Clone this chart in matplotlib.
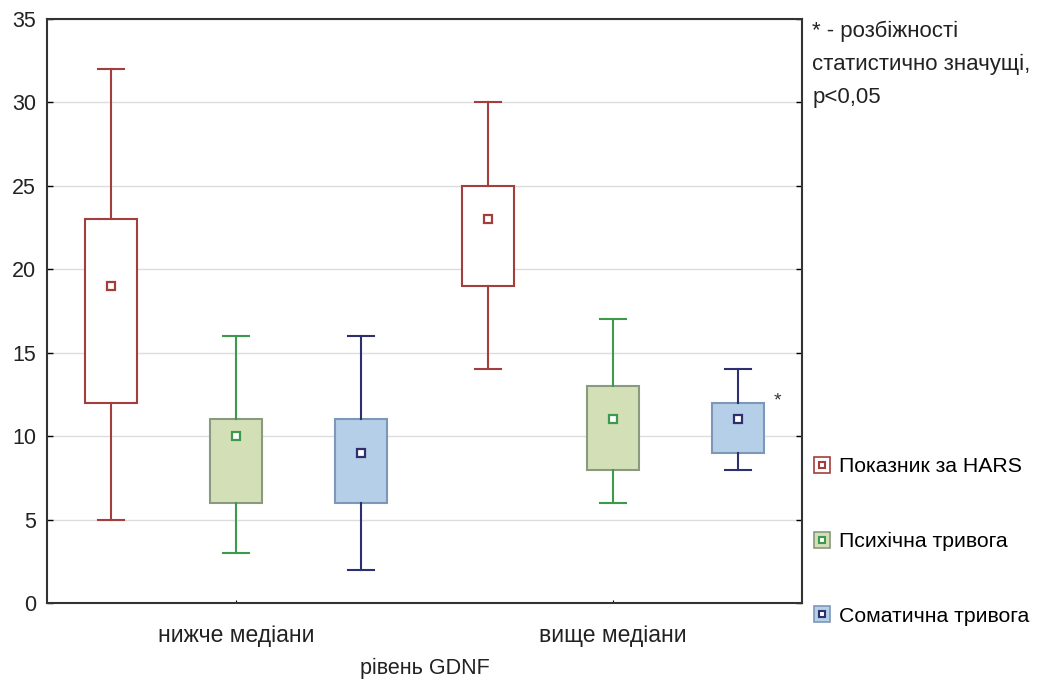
import matplotlib.pyplot as plt
from matplotlib.lines import Line2D
from matplotlib.legend_handler import HandlerTuple

plt.rcParams['font.family'] = ['Liberation Sans', 'DejaVu Sans']

# Groups by GDNF level and the three anxiety scores
groups = ['нижче медіани', 'вище медіани']
series = ['Показник за HARS', 'Психічна тривога', 'Соматична тривога']

# per series: [below median, above median]
whis_lo = [[5, 14], [3, 6], [2, 8]]
q1 = [[12, 19], [6, 8], [6, 9]]
mean = [[19, 23], [10, 11], [9, 11]]
q3 = [[23, 25], [11, 13], [11, 12]]
whis_hi = [[32, 30], [16, 17], [16, 14]]

# significant difference marker (series, group)
significant = [(2, 1)]

line_colors = ['#a23f3d', '#3d9a4c', '#2e2f6e']
face_colors = ['#ffffff', '#d3e0b7', '#b5cfe8']
edge_colors = ['#a23f3d', '#8a9a7e', '#7d97b8']
text_color = '#222222'

fig = plt.figure(figsize=(10.4, 6.82), dpi=100)
ax = fig.add_axes([0.0452, 0.1158, 0.7260, 0.8563])

offset = 0.331
width = 0.138
for s in range(len(series)):
    stats = []
    positions = []
    for g in range(len(groups)):
        stats.append(dict(whislo=whis_lo[s][g], q1=q1[s][g], med=mean[s][g],
                          q3=q3[s][g], whishi=whis_hi[s][g], mean=mean[s][g]))
        positions.append(g + 1 + (s - 1) * offset)
    ax.bxp(stats, positions=positions, widths=width, patch_artist=True,
           showmeans=True, showfliers=False,
           boxprops=dict(facecolor=face_colors[s], edgecolor=edge_colors[s], linewidth=1.5),
           whiskerprops=dict(color=line_colors[s], linewidth=1.5),
           capprops=dict(color=line_colors[s], linewidth=1.5),
           capwidths=width / 2,
           medianprops=dict(linewidth=0),
           meanprops=dict(marker='s', markersize=6, markerfacecolor='white',
                          markeredgecolor=line_colors[s], markeredgewidth=1.6))

for s, g in significant:
    ax.text(g + 1 + (s - 1) * offset + width / 2 + 0.025, q3[s][g] + 0.1, '*',
            fontsize=14, ha='left', va='center', color='#333333')

ax.set_xlim(0.5, 2.5)
ax.set_ylim(0, 35)
ax.set_xticks([1, 2])
ax.set_xticklabels(groups, fontsize=16.5, color=text_color)
ax.set_yticks(range(0, 36, 5))
ax.tick_params(axis='y', labelsize=15.5, labelcolor=text_color, direction='in',
               length=4, right=True, width=1, pad=8)
ax.tick_params(axis='x', direction='in', length=2, pad=15)
ax.yaxis.grid(True, color='#dddddd', linewidth=1)
ax.set_axisbelow(True)
for sp in ax.spines.values():
    sp.set_color('#333333')
    sp.set_linewidth(1.5)
ax.set_xlabel('рівень GDNF', fontsize=15.5, color=text_color, labelpad=8)

handles = []
for s in range(len(series)):
    outer = Line2D([], [], linestyle='none', marker='s', markersize=12,
                   markerfacecolor=face_colors[s], markeredgecolor=edge_colors[s],
                   markeredgewidth=1.2)
    inner = Line2D([], [], linestyle='none', marker='s', markersize=5,
                   markerfacecolor='white', markeredgecolor=line_colors[s],
                   markeredgewidth=1.5)
    handles.append((outer, inner))
fig.legend(handles, series, handler_map={tuple: HandlerTuple(ndivide=1)},
           loc='upper left', bbox_to_anchor=(0.774, 0.342), frameon=False,
           fontsize=15.3, labelspacing=2.62, handlelength=0.8, handletextpad=0.4,
           borderaxespad=0)

fig.text(0.781, 0.969, '* - розбіжності\nстатистично значущі,\np<0,05',
         fontsize=16, va='top', ha='left', color=text_color, linespacing=1.74)

fig.savefig('out.png', dpi=100)
